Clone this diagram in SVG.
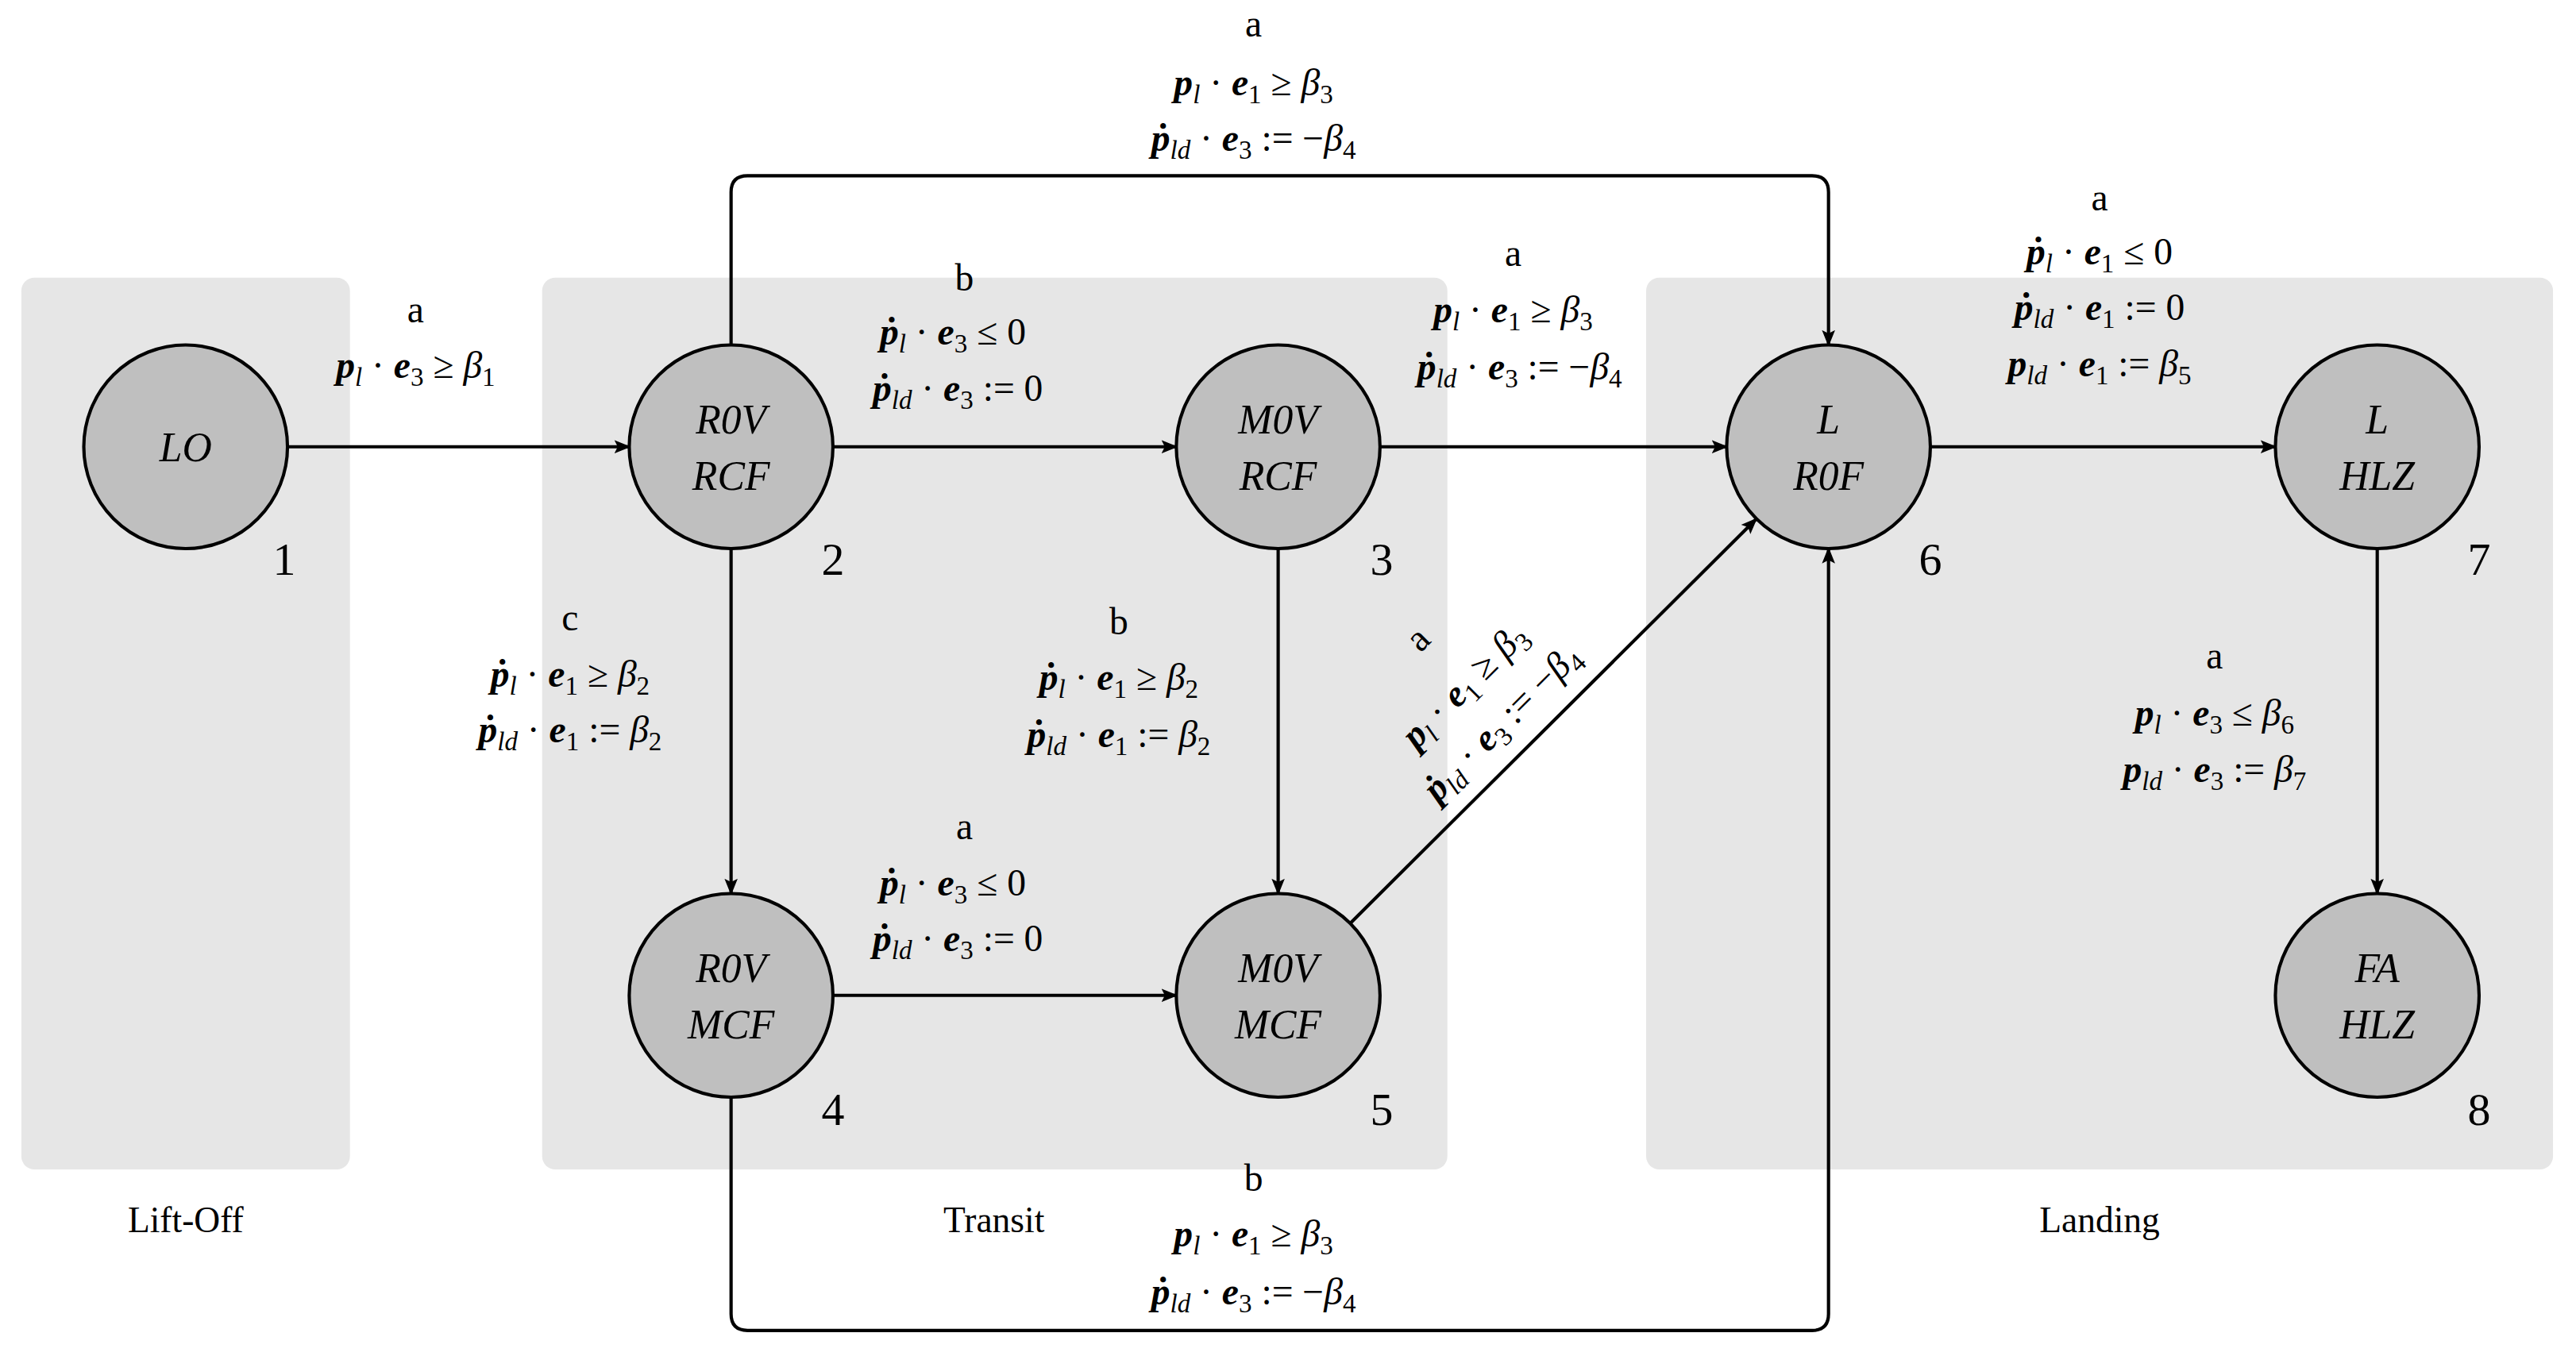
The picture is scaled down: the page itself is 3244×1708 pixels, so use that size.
<svg xmlns="http://www.w3.org/2000/svg" width="3244" height="1708" viewBox="0 0 3244 1708">
<style>
text{font-family:"Liberation Serif","DejaVu Serif",serif;fill:#000}
.m{font-size:23px;text-anchor:middle}
.b{font-weight:bold;font-style:italic}
.i{font-style:italic}
.s{font-size:16px;baseline-shift:-5px}
.si{font-size:16px;baseline-shift:-5px;font-style:italic}
.grp{fill:#e6e6e6}
.gl{font-size:22px;text-anchor:middle}
.node circle{fill:#bfbfbf;stroke:#000;stroke-width:2}
.nt{font-size:25px;font-style:italic;text-anchor:middle}
.num{font-size:28px;text-anchor:middle}
.e{fill:none;stroke:#000;stroke-width:2;marker-end:url(#ah)}
</style>
<defs>
<marker id="ah" markerWidth="12" markerHeight="10" refX="9" refY="5" orient="auto" markerUnits="userSpaceOnUse">
<path d="M0,1 L10,5 L0,9 L2,5 z" fill="#000"/>
</marker>
</defs>
<rect width="3244" height="1708" fill="#fff"/>
<g transform="scale(2.0689)">
<g id="groups">
<rect class="grp" x="13" y="169" width="200" height="543" rx="8"/>
<rect class="grp" x="330" y="169" width="551" height="543" rx="8"/>
<rect class="grp" x="1002" y="169" width="552" height="543" rx="8"/>
<text class="gl" x="113" y="750">Lift-Off</text>
<text class="gl" x="605" y="750">Transit</text>
<text class="gl" x="1278" y="750">Landing</text>
</g>
<g id="connectors">
<line class="e" x1="175" y1="272" x2="383" y2="272"/>
<line class="e" x1="507" y1="272" x2="716" y2="272"/>
<line class="e" x1="840" y1="272" x2="1051" y2="272"/>
<line class="e" x1="1175" y1="272" x2="1385" y2="272"/>
<line class="e" x1="445" y1="334" x2="445" y2="544"/>
<line class="e" x1="778" y1="334" x2="778" y2="544"/>
<line class="e" x1="1447" y1="334" x2="1447" y2="544"/>
<line class="e" x1="507" y1="606" x2="716" y2="606"/>
<line class="e" x1="822" y1="562" x2="1069" y2="316"/>
<path class="e" d="M445,210 V117 Q445,107 455,107 H1103 Q1113,107 1113,117 V210"/>
<path class="e" d="M445,668 V800 Q445,810 455,810 H1103 Q1113,810 1113,800 V334"/>
</g>
<g id="labels">
<text class="m" x="763" y="22">a</text>
<text class="m" x="763" y="58"><tspan class="b">p</tspan><tspan class="si">l</tspan> · <tspan class="b">e</tspan><tspan class="s">1</tspan> ≥ <tspan class="i">β</tspan><tspan class="s">3</tspan></text>
<text class="m" x="763" y="92"><tspan class="b">p&#x307;</tspan><tspan class="si">ld</tspan> · <tspan class="b">e</tspan><tspan class="s">3</tspan> := −<tspan class="i">β</tspan><tspan class="s">4</tspan></text>

<text class="m" x="253" y="196">a</text>
<text class="m" x="253" y="230"><tspan class="b">p</tspan><tspan class="si">l</tspan> · <tspan class="b">e</tspan><tspan class="s">3</tspan> ≥ <tspan class="i">β</tspan><tspan class="s">1</tspan></text>

<text class="m" x="587" y="177">b</text>
<text class="m" x="580" y="210"><tspan class="b">p&#x307;</tspan><tspan class="si">l</tspan> · <tspan class="b">e</tspan><tspan class="s">3</tspan> ≤ 0</text>
<text class="m" x="583" y="244"><tspan class="b">p&#x307;</tspan><tspan class="si">ld</tspan> · <tspan class="b">e</tspan><tspan class="s">3</tspan> := 0</text>

<text class="m" x="921" y="162">a</text>
<text class="m" x="921" y="196"><tspan class="b">p</tspan><tspan class="si">l</tspan> · <tspan class="b">e</tspan><tspan class="s">1</tspan> ≥ <tspan class="i">β</tspan><tspan class="s">3</tspan></text>
<text class="m" x="925" y="231"><tspan class="b">p&#x307;</tspan><tspan class="si">ld</tspan> · <tspan class="b">e</tspan><tspan class="s">3</tspan> := −<tspan class="i">β</tspan><tspan class="s">4</tspan></text>

<text class="m" x="1278" y="128">a</text>
<text class="m" x="1278" y="161"><tspan class="b">p&#x307;</tspan><tspan class="si">l</tspan> · <tspan class="b">e</tspan><tspan class="s">1</tspan> ≤ 0</text>
<text class="m" x="1278" y="195"><tspan class="b">p&#x307;</tspan><tspan class="si">ld</tspan> · <tspan class="b">e</tspan><tspan class="s">1</tspan> := 0</text>
<text class="m" x="1278" y="229"><tspan class="b">p</tspan><tspan class="si">ld</tspan> · <tspan class="b">e</tspan><tspan class="s">1</tspan> := <tspan class="i">β</tspan><tspan class="s">5</tspan></text>

<text class="m" x="347" y="384">c</text>
<text class="m" x="347" y="418"><tspan class="b">p&#x307;</tspan><tspan class="si">l</tspan> · <tspan class="b">e</tspan><tspan class="s">1</tspan> ≥ <tspan class="i">β</tspan><tspan class="s">2</tspan></text>
<text class="m" x="347" y="452"><tspan class="b">p&#x307;</tspan><tspan class="si">ld</tspan> · <tspan class="b">e</tspan><tspan class="s">1</tspan> := <tspan class="i">β</tspan><tspan class="s">2</tspan></text>

<text class="m" x="681" y="386">b</text>
<text class="m" x="681" y="420"><tspan class="b">p&#x307;</tspan><tspan class="si">l</tspan> · <tspan class="b">e</tspan><tspan class="s">1</tspan> ≥ <tspan class="i">β</tspan><tspan class="s">2</tspan></text>
<text class="m" x="681" y="455"><tspan class="b">p&#x307;</tspan><tspan class="si">ld</tspan> · <tspan class="b">e</tspan><tspan class="s">1</tspan> := <tspan class="i">β</tspan><tspan class="s">2</tspan></text>

<text class="m" x="587" y="511">a</text>
<text class="m" x="580" y="545"><tspan class="b">p&#x307;</tspan><tspan class="si">l</tspan> · <tspan class="b">e</tspan><tspan class="s">3</tspan> ≤ 0</text>
<text class="m" x="583" y="579"><tspan class="b">p&#x307;</tspan><tspan class="si">ld</tspan> · <tspan class="b">e</tspan><tspan class="s">3</tspan> := 0</text>

<text class="m" x="1348" y="407">a</text>
<text class="m" x="1348" y="442"><tspan class="b">p</tspan><tspan class="si">l</tspan> · <tspan class="b">e</tspan><tspan class="s">3</tspan> ≤ <tspan class="i">β</tspan><tspan class="s">6</tspan></text>
<text class="m" x="1348" y="476"><tspan class="b">p</tspan><tspan class="si">ld</tspan> · <tspan class="b">e</tspan><tspan class="s">3</tspan> := <tspan class="i">β</tspan><tspan class="s">7</tspan></text>

<text class="m" x="763" y="725">b</text>
<text class="m" x="763" y="759"><tspan class="b">p</tspan><tspan class="si">l</tspan> · <tspan class="b">e</tspan><tspan class="s">1</tspan> ≥ <tspan class="i">β</tspan><tspan class="s">3</tspan></text>
<text class="m" x="763" y="794"><tspan class="b">p&#x307;</tspan><tspan class="si">ld</tspan> · <tspan class="b">e</tspan><tspan class="s">3</tspan> := −<tspan class="i">β</tspan><tspan class="s">4</tspan></text>

<g transform="translate(929,455) rotate(-45)">
<text class="m" x="0" y="-86">a</text>
<text class="m" x="0" y="-46"><tspan class="b">p</tspan><tspan class="si">l</tspan> · <tspan class="b">e</tspan><tspan class="s">1</tspan> ≥ <tspan class="i">β</tspan><tspan class="s">3</tspan></text>
<text class="m" x="0" y="-14"><tspan class="b">p&#x307;</tspan><tspan class="si">ld</tspan> · <tspan class="b">e</tspan><tspan class="s">3</tspan> := −<tspan class="i">β</tspan><tspan class="s">4</tspan></text>
</g>
</g>
<g id="n1" class="node"><circle cx="113" cy="272" r="62"/><text class="nt" x="113" y="281">LO</text><text class="num" x="173" y="350">1</text></g>
<g id="n2" class="node"><circle cx="445" cy="272" r="62"/><text class="nt" x="445" y="264">R0V</text><text class="nt" x="445" y="298">RCF</text><text class="num" x="507" y="350">2</text></g>
<g id="n3" class="node"><circle cx="778" cy="272" r="62"/><text class="nt" x="778" y="264">M0V</text><text class="nt" x="778" y="298">RCF</text><text class="num" x="841" y="350">3</text></g>
<g id="n6" class="node"><circle cx="1113" cy="272" r="62"/><text class="nt" x="1113" y="264">L</text><text class="nt" x="1113" y="298">R0F</text><text class="num" x="1175" y="350">6</text></g>
<g id="n7" class="node"><circle cx="1447" cy="272" r="62"/><text class="nt" x="1447" y="264">L</text><text class="nt" x="1447" y="298">HLZ</text><text class="num" x="1509" y="350">7</text></g>
<g id="n4" class="node"><circle cx="445" cy="606" r="62"/><text class="nt" x="445" y="598">R0V</text><text class="nt" x="445" y="632">MCF</text><text class="num" x="507" y="685">4</text></g>
<g id="n5" class="node"><circle cx="778" cy="606" r="62"/><text class="nt" x="778" y="598">M0V</text><text class="nt" x="778" y="632">MCF</text><text class="num" x="841" y="685">5</text></g>
<g id="n8" class="node"><circle cx="1447" cy="606" r="62"/><text class="nt" x="1447" y="598">FA</text><text class="nt" x="1447" y="632">HLZ</text><text class="num" x="1509" y="685">8</text></g>
</g>
</svg>
